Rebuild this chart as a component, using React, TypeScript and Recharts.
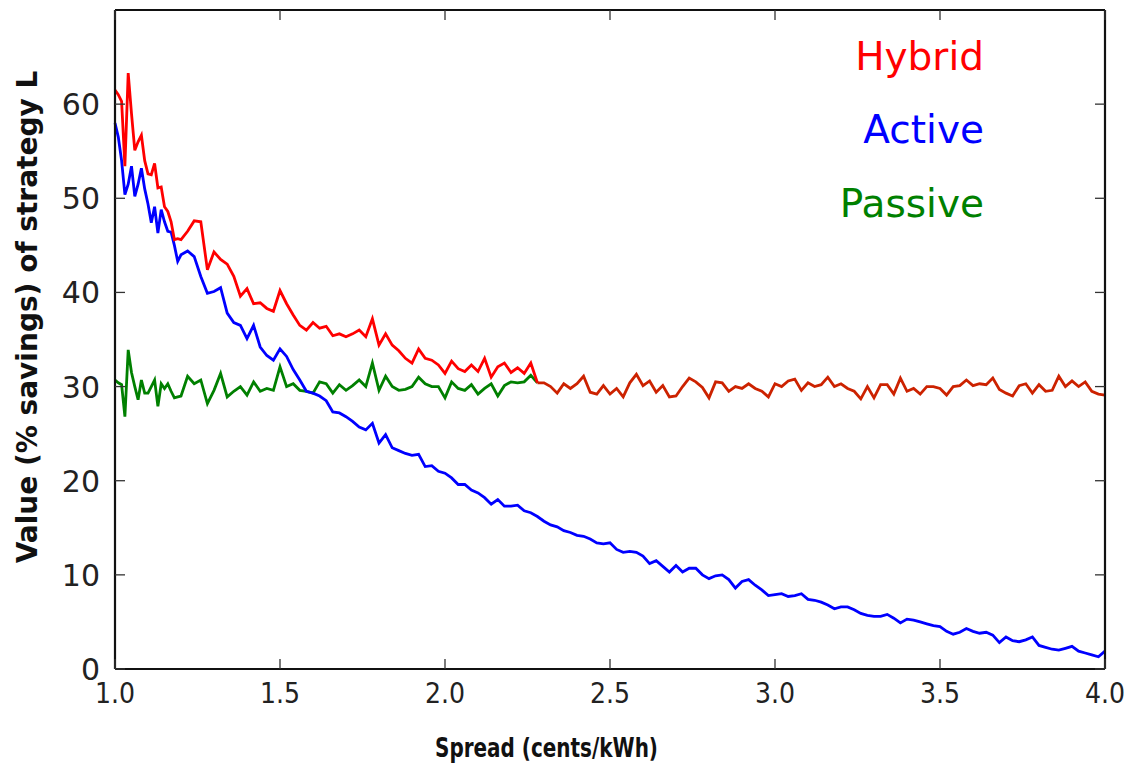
import { Line, LineChart, XAxis, YAxis } from "recharts"

// x grid: 0.01 steps up to 1.20, then 0.02 steps to 4.00
const spread = [
  ...Array.from({ length: 21 }, (_, i) => +(1 + i * 0.01).toFixed(2)),
  ...Array.from({ length: 140 }, (_, i) => +(1.22 + i * 0.02).toFixed(2)),
]

const active = [
  58.0, 56.5, 54.0, 50.4, 51.5, 53.4, 50.2, 51.5, 53.2, 51.0, 49.4, 47.4, 49.1, 46.3, 48.8, 47.5, 46.5, 46.4, 45.0, 43.3, 44.0,
  44.4, 43.8, 41.7, 39.9, 40.1, 40.5, 37.8, 36.8, 36.5, 35.1, 36.5, 34.2, 33.3, 32.8, 34.0, 33.2, 31.8, 30.7, 29.5, 29.3,
  29.0, 28.5, 27.3, 27.2, 26.8, 26.3, 25.7, 25.4, 26.1, 24.0, 24.9, 23.5, 23.2, 22.9, 22.7, 22.8, 21.5, 21.6, 21.0, 20.8,
  20.3, 19.6, 19.6, 19.0, 18.7, 18.2, 17.5, 18.0, 17.3, 17.3, 17.4, 16.8, 16.6, 16.2, 15.7, 15.3, 15.1, 14.7, 14.5, 14.2,
  14.1, 13.8, 13.4, 13.3, 13.4, 12.7, 12.4, 12.5, 12.4, 12.0, 11.2, 11.5, 10.9, 10.3, 11.0, 10.3, 10.7, 10.7, 10.0, 9.6,
  9.9, 10.0, 9.5, 8.6, 9.3, 9.5, 8.9, 8.4, 7.8, 7.9, 8.0, 7.7, 7.8, 8.0, 7.4, 7.3, 7.1, 6.8, 6.4, 6.6,
  6.6, 6.3, 5.9, 5.7, 5.6, 5.6, 5.8, 5.4, 4.9, 5.3, 5.2, 5.0, 4.8, 4.6, 4.5, 4.0, 3.7, 3.9, 4.3, 4.0,
  3.8, 3.9, 3.6, 2.8, 3.4, 3.0, 2.9, 3.1, 3.4, 2.5, 2.3, 2.1, 2.0, 2.2, 2.4, 1.9, 1.7, 1.5, 1.3, 1.9,
]

const hybrid = [
  61.5, 61.0, 60.3, 53.4, 63.3, 59.0, 55.1, 56.0, 56.7, 54.0, 52.6, 52.5, 53.7, 51.1, 51.2, 49.1, 48.6, 47.5, 45.6, 45.7, 45.6,
  46.5, 47.6, 47.5, 42.4, 44.3, 43.5, 43.0, 41.7, 39.6, 40.4, 38.8, 38.9, 38.3, 38.0, 40.2, 38.8, 37.6, 36.5, 36.0, 36.8,
  36.2, 36.4, 35.4, 35.6, 35.3, 35.6, 36.0, 35.3, 37.2, 34.4, 35.6, 34.4, 33.8, 33.0, 32.5, 34.0, 33.0, 32.8, 32.3, 31.4,
  32.7, 31.9, 31.6, 32.3, 31.6, 33.0, 31.0, 32.1, 32.5, 31.5, 32.0, 31.4, 32.5, 30.4, 30.4, 30.0, 29.3, 30.3, 29.8, 30.3,
  31.1, 29.4, 29.2, 30.1, 29.2, 29.8, 28.9, 30.4, 31.3, 30.1, 30.6, 29.4, 30.1, 28.9, 29.0, 30.0, 30.9, 30.5, 29.9, 28.8,
  30.5, 30.4, 29.5, 30.0, 29.8, 30.3, 29.8, 29.5, 28.9, 30.3, 30.0, 30.6, 30.8, 29.6, 30.4, 30.0, 30.2, 31.0, 30.0, 30.3,
  29.8, 29.5, 28.7, 30.0, 28.8, 30.2, 30.2, 29.2, 30.9, 29.5, 29.8, 29.2, 30.0, 30.0, 29.8, 29.1, 30.0, 30.1, 30.7, 30.1,
  30.3, 30.2, 30.9, 29.7, 29.3, 29.0, 30.1, 30.3, 29.3, 30.2, 29.5, 29.6, 31.1, 30.0, 30.6, 30.0, 30.5, 29.5, 29.2, 29.1,
]

// passive only drawn on its own up to 2.28, after that it coincides with hybrid
const passive = [
  30.7, 30.4, 30.2, 26.8, 33.9, 31.5, 30.0, 28.6, 30.7, 29.3, 29.3, 30.0, 30.7, 27.9, 30.3, 29.8, 30.3, 29.5, 28.8, 28.9, 29.0,
  31.1, 30.3, 30.7, 28.2, 29.6, 31.4, 28.9, 29.5, 30.0, 29.1, 30.5, 29.5, 29.8, 29.6, 32.1, 30.0, 30.3, 29.6, 29.5, 29.3,
  30.5, 30.3, 29.3, 30.2, 29.6, 30.1, 30.7, 30.0, 32.5, 29.6, 31.1, 30.0, 29.6, 29.7, 30.0, 31.0, 30.3, 30.0, 30.0, 28.8,
  30.5, 29.8, 29.6, 30.2, 29.2, 29.8, 30.3, 29.0, 30.1, 30.5, 30.4, 30.5, 31.2, 30.4,
]

const joinAt = 2.28
const xTicks = [1.0, 1.5, 2.0, 2.5, 3.0, 3.5, 4.0]
const yTicks = [0, 10, 20, 30, 40, 50, 60]

const data = spread.map((s, i) => ({
  spread: s,
  active: active[i],
  hybrid: s <= joinAt + 1e-9 ? hybrid[i] : undefined,
  passive: i < passive.length ? passive[i] : undefined,
  both: s >= joinAt - 1e-9 ? hybrid[i] : undefined,
}))

// plot box edges (layout)
const TOP = 10
const BOTTOM = 669
const LEFT = 115
const RIGHT = 1105
const TICK = 10

const frame = { stroke: "#111", strokeWidth: 2.2 }
const tickStroke = "#333"

// x tick: label below, inward marks on bottom and top spines
function BottomTick(props: any) {
  const { x, payload } = props
  return (
    <g>
      <line x1={x} x2={x} y1={BOTTOM} y2={BOTTOM - TICK} stroke={tickStroke} strokeWidth={1.3} />
      <line x1={x} x2={x} y1={TOP} y2={TOP + TICK} stroke={tickStroke} strokeWidth={1.3} />
      <text x={x} y={BOTTOM + 34} textAnchor="middle" fill="#222" fontSize={28} fontFamily="DejaVu Sans Condensed, DejaVu Sans">
        {Number(payload.value).toFixed(1)}
      </text>
    </g>
  )
}

// y tick: label left, inward marks on left and right spines
function LeftTick(props: any) {
  const { y, payload } = props
  return (
    <g>
      <line x1={LEFT} x2={LEFT + TICK} y1={y} y2={y} stroke={tickStroke} strokeWidth={1.3} />
      <line x1={RIGHT} x2={RIGHT - TICK} y1={y} y2={y} stroke={tickStroke} strokeWidth={1.3} />
      <text x={LEFT - 15} y={y + 11} textAnchor="end" fill="#222" fontSize={30} fontFamily="DejaVu Sans">
        {payload.value}
      </text>
    </g>
  )
}

export default function App() {
  return (
    <div style={{ position: "absolute", left: 0, top: 0 }}>
      <LineChart width={1129} height={763} data={data} margin={{ top: TOP, right: 1129 - RIGHT, left: 0, bottom: 0 }}>
        <XAxis
          xAxisId="bottom"
          dataKey="spread"
          type="number"
          domain={[1, 4]}
          ticks={xTicks}
          interval={0}
          height={763 - BOTTOM}
          tickSize={0}
          axisLine={frame}
          tickLine={false}
          tick={<BottomTick />}
        />
        <YAxis
          yAxisId="left"
          type="number"
          domain={[0, 70]}
          ticks={yTicks}
          interval={0}
          width={LEFT}
          tickSize={0}
          axisLine={frame}
          tickLine={false}
          tick={<LeftTick />}
        />
        {/* top and right spines */}
        <XAxis xAxisId="top" dataKey="spread" type="number" orientation="top" domain={[1, 4]} mirror
          axisLine={frame} tickLine={false} tick={false} />
        <YAxis yAxisId="right" orientation="right" type="number" domain={[0, 70]} mirror
          axisLine={frame} tickLine={false} tick={false} />

        <Line xAxisId="bottom" yAxisId="left" dataKey="passive" stroke="#008000" strokeWidth={2.8} dot={false} isAnimationActive={false} />
        <Line xAxisId="bottom" yAxisId="left" dataKey="active" stroke="#0000ff" strokeWidth={2.8} dot={false} isAnimationActive={false} />
        <Line xAxisId="bottom" yAxisId="left" dataKey="hybrid" stroke="#ff0000" strokeWidth={2.8} dot={false} isAnimationActive={false} />
        <Line xAxisId="bottom" yAxisId="left" dataKey="both" stroke="#cc2200" strokeWidth={2.8} dot={false} isAnimationActive={false} />

        <text x={984} y={70} textAnchor="end" fill="#ff0000" fontSize={39} fontFamily="DejaVu Sans">Hybrid</text>
        <text x={984} y={143} textAnchor="end" fill="#0000ff" fontSize={39} fontFamily="DejaVu Sans">Active</text>
        <text x={984} y={217} textAnchor="end" fill="#008000" fontSize={39} fontFamily="DejaVu Sans">Passive</text>

        <text x={435} y={757} textLength={223} lengthAdjust="spacingAndGlyphs" fill="#111" fontSize={27} fontWeight="bold" fontFamily="DejaVu Sans Condensed, DejaVu Sans">
          Spread (cents/kWh)
        </text>
        <text x={37} y={317} transform="rotate(-90, 37, 317)" textAnchor="middle" fill="#111" fontSize={28} fontWeight="bold" fontFamily="DejaVu Sans">
          Value (% savings) of strategy L
        </text>
      </LineChart>
    </div>
  )
}
